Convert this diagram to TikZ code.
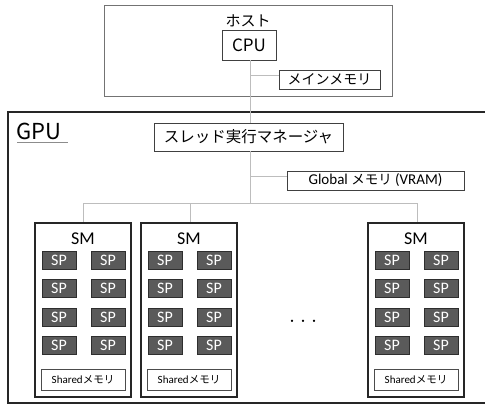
\documentclass[tikz,border=0pt]{standalone}
\usepackage{fontspec}
\setmainfont{Carlito}
\newfontfamily\jpfont{Noto Sans CJK JP}
\newfontfamily\calfont{Carlito}
\definecolor{spfill}{HTML}{5A5A5A}
\definecolor{spdraw}{HTML}{2E2E2E}
\definecolor{wire}{HTML}{BDBDBD}
\begin{document}
\begin{tikzpicture}[x=1pt,y=-1pt,
  box/.style={draw=black!75,line width=0.6pt,fill=white,inner sep=0pt},
  conn/.style={draw=wire,line width=0.6pt},
  smbox/.style={draw=black!85,line width=1.1pt,fill=white},
  spcell/.style={draw=spdraw,line width=0.8pt,fill=spfill,minimum width=34pt,minimum height=18pt,inner sep=0pt,text=white,font=\calfont\fontsize{16}{16}\selectfont},
  shbox/.style={draw=black!70,line width=0.6pt,fill=white,minimum width=84pt,minimum height=21pt,inner sep=0pt,font=\calfont\fontsize{11}{11}\selectfont},
  lbl/.style={inner sep=0pt}]
\useasboundingbox (0,0) rectangle (485,413);
% Host
\node[draw=black!55,line width=0.6pt,minimum width=288pt,minimum height=91pt,inner sep=0pt] (host) at (248,50.5) {};
\node[lbl,font=\jpfont\fontsize{15}{15}\selectfont] (hostlbl) at (248,21) {ホスト};
\node[box,minimum width=54pt,minimum height=30pt,font=\jpfont\fontsize{17}{17}\selectfont] (cpu) at (249,45) {CPU};
\node[box,minimum width=101pt,minimum height=19pt,font=\jpfont\fontsize{14}{14}\selectfont] (mm) at (329.5,79.5) {メインメモリ};
% GPU
\node[draw=black!85,line width=1.2pt,minimum width=480pt,minimum height=291pt,inner sep=0pt] (gpu) at (248,257.5) {};
\node[lbl,font=\jpfont\fontsize{22}{22}\selectfont,anchor=base west] (gpulbl) at (16,139) {GPU};
\draw[draw=black!45,line width=0.6pt] (17,142.5) -- (68,142.5);
\node[box,minimum width=189pt,minimum height=28pt,font=\jpfont\fontsize{15.5}{15.5}\selectfont] (tm) at (248.5,137) {スレッド実行マネージャ};
\node[box,minimum width=177pt,minimum height=19pt,font=\calfont\fontsize{15}{15}\selectfont] (gm) at (375.5,180.5) {Global {\jpfont\fontsize{13.5}{13.5}\selectfont メモリ} (VRAM)};
% connectors
\coordinate (bus) at (250,203);
\coordinate (hmm) at (250,75);
\coordinate (hgm) at (250,176);
\coordinate (bl) at (83,203);
\coordinate (bm) at (190,203);
\coordinate (br) at (417,203);
\draw[conn] (cpu.south -| hmm) -- (tm.north -| hmm);
\draw[conn] (hmm) -- (hmm -| mm.west);
\draw[conn] (tm.south -| bus) -- (bus);
\draw[conn] (hgm) -- (hgm -| gm.west);
\draw[conn] (bl) -- (br);
% SM boxes
\foreach \n/\cx in {a/83,b/189,c/416}{
  \node[smbox,minimum width=96pt,minimum height=174pt,inner sep=0pt] (sm\n) at (\cx,310) {};
  \node[lbl,font=\calfont\fontsize{18}{18}\selectfont] (sml\n) at (\cx,239) {SM};
  \foreach \r/\cy in {1/260,2/288.5,3/317,4/345.5}{
    \node[spcell] (sp\n\r l) at (\cx-24,\cy) {SP};
    \node[spcell] (sp\n\r r) at (\cx+25,\cy) {SP};
  }
  \node[shbox] (sh\n) at (\cx,380) {Shared\jpfont\fontsize{10.5}{10.5}\selectfont メモリ};
}
\draw[conn] (bl) -- (sma.north);
\draw[conn] (bm) -- (smb.north -| bm);
\draw[conn] (br) -- (smc.north -| br);
\node[lbl,font=\jpfont\fontsize{11}{11}\selectfont] (dots) at (303,323) {・・・};
\end{tikzpicture}
\end{document}
